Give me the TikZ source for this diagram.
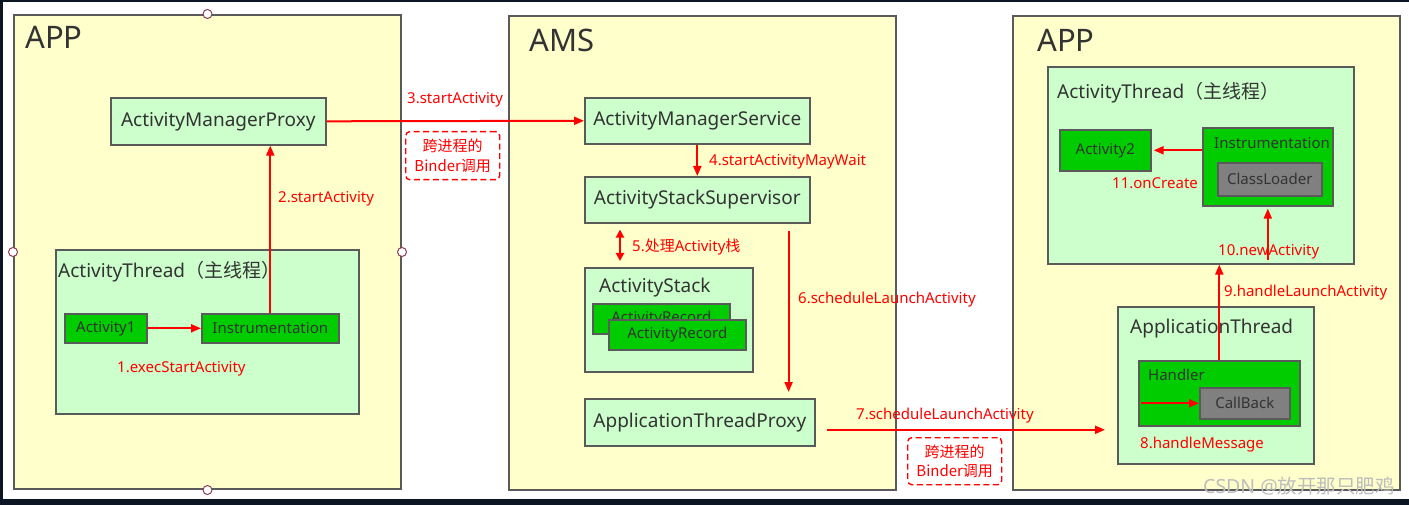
\documentclass[tikz,border=0pt]{standalone}
\usepackage{fontspec}
\setmainfont{Noto Sans}
\newfontfamily\cjk{Noto Sans CJK SC}
\usetikzlibrary{arrows.meta}

\definecolor{panelfill}{HTML}{FFFFCC}
\definecolor{lightgreen}{HTML}{CCFFCC}
\definecolor{boxgreen}{HTML}{00CC00}
\definecolor{boxgray}{HTML}{808080}
\definecolor{edgegray}{HTML}{5A5A5A}
\definecolor{txtgray}{HTML}{333333}
\definecolor{navy}{HTML}{0B1524}
\definecolor{handle}{HTML}{8C3C55}
\definecolor{markgray}{HTML}{BDBDBD}

\newcommand{\bigfont}{\fontsize{31}{36}\selectfont}
\newcommand{\boxfont}{\fontsize{19}{23}\selectfont}
\newcommand{\smallfont}{\fontsize{15}{19.5}\selectfont}

\begin{document}
\begin{tikzpicture}[x=1pt, y=-1pt,
    panel/.style={draw=edgegray, fill=panelfill, line width=2pt, anchor=north west, inner sep=0pt},
    lbox/.style={draw=edgegray, fill=lightgreen, line width=1.6pt, anchor=north west, inner sep=0pt, font=\boxfont, text=txtgray},
    gbox/.style={lbox, fill=boxgreen, font=\smallfont},
    graybox/.style={gbox, fill=boxgray},
    bigtitle/.style={text=txtgray, font=\bigfont, inner sep=0pt, anchor=base west},
    title/.style={text=txtgray, font=\boxfont, inner sep=0pt, anchor=base west},
    smalltitle/.style={title, font=\smallfont},
    note/.style={text=red, font=\smallfont, inner sep=0pt, anchor=base west},
    binder/.style={draw=red, dashed, dash pattern=on 6pt off 3.5pt, line width=1.4pt, rounded corners=4pt,
                   anchor=north west, inner sep=0pt, text=red, align=center, font=\smallfont\cjk},
    flow/.style={red, line width=2pt, -{Triangle[length=10pt,width=8pt]}},
    twoway/.style={red, line width=2pt, {Triangle[length=8pt,width=8pt]}-{Triangle[length=8pt,width=8pt]}},
  ]
  \useasboundingbox (0,0) rectangle (1409,505);
  \fill[white] (0,0) rectangle (1409,505);
  \fill[navy] (0,0) rectangle (1409,1.7);
  \fill[navy] (0,0) rectangle (2.5,505);
  \fill[navy] (0,499) rectangle (1409,505);

  % the three processes
  \node[panel, minimum width=387pt, minimum height=474pt] (appL) at (13,14) {};
  \node[panel, minimum width=387pt, minimum height=474pt] (ams) at (508,15) {};
  \node[panel, minimum width=387pt, minimum height=474pt] (appR) at (1012,15) {};
  \node[bigtitle] (appLt) at (25,49) {APP};
  \node[bigtitle] (amst) at (529,52) {AMS};
  \node[bigtitle] (appRt) at (1037,52) {APP};
  \foreach \p in {appL.north, appL.west, appL.east, appL.south}
    \filldraw[fill=white, draw=handle, line width=1pt] (\p) circle (4.5pt);

  % left app
  \node[lbox, minimum width=215pt, minimum height=47pt] (amp) at (110,97) {ActivityManagerProxy};
  \node[lbox, minimum width=303pt, minimum height=164pt] (atL) at (55,249) {};
  \node[title] (atLt) at (58,277) {ActivityThread{\cjk （主线程）}};
  \node[gbox, minimum width=82pt, minimum height=29pt] (act1) at (64,313) {Activity1};
  \node[gbox, minimum width=137pt, minimum height=29pt] (instL) at (201,313) {Instrumentation};

  % ams
  \node[lbox, minimum width=225pt, minimum height=46pt] (amsv) at (584,97) {ActivityManagerService};
  \node[lbox, minimum width=225pt, minimum height=46pt] (ass) at (584,176) {ActivityStackSupervisor};
  \node[lbox, minimum width=168pt, minimum height=104pt] (stack) at (584,267) {};
  \node[title] (stackt) at (599,293) {ActivityStack};
  \node[gbox, minimum width=137pt, minimum height=30pt] (rec1) at (592,303) {ActivityRecord};
  \node[gbox, minimum width=137pt, minimum height=30pt] (rec2) at (608,319) {ActivityRecord};
  \node[lbox, minimum width=230pt, minimum height=47pt] (atp) at (584,398) {ApplicationThreadProxy};

  % right app
  \node[lbox, minimum width=306pt, minimum height=197pt] (atR) at (1047,66) {};
  \node[title] (atRt) at (1057,99) {ActivityThread{\cjk （主线程）}};
  \node[gbox, minimum width=91pt, minimum height=41pt] (act2) at (1059,129) {Activity2};
  \node[gbox, minimum width=130pt, minimum height=78pt] (instR) at (1202,127) {};
  \node[smalltitle] (instRt) at (1214,149) {Instrumentation};
  \node[graybox, minimum width=104pt, minimum height=33pt] (loader) at (1217,162) {ClassLoader};
  \node[lbox, minimum width=196pt, minimum height=157pt] (apt) at (1117,306) {};
  \node[title] (aptt) at (1130,334) {ApplicationThread};
  \node[gbox, minimum width=161pt, minimum height=65pt] (handler) at (1138,360) {};
  \node[smalltitle] (handlert) at (1148,380) {Handler};
  \node[graybox, minimum width=90pt, minimum height=31pt] (callback) at (1199,387) {CallBack};

  % binder calls
  \node[binder, minimum width=94pt, minimum height=48pt] (binder1) at (405,131) {跨进程的\\Binder调用};
  \node[binder, minimum width=94pt, minimum height=47pt] (binder2) at (907,437) {跨进程的\\Binder调用};

  % calls
  \draw[flow] (act1.east) -- (instL.west);
  \draw[flow] (instL.north) -- (instL.north |- amp.south);
  \draw[flow] (amp.east) -- (amsv.west);
  \draw[flow] (amsv.south) -- (ass.north);
  \coordinate (s5) at ([xshift=36pt]ass.south west);
  \draw[twoway, shorten <=6pt, shorten >=6pt] (s5) -- (s5 |- stack.north);
  \coordinate (s6) at ([xshift=-22pt]ass.south east);
  \draw[flow, shorten <=7pt, shorten >=6pt] (s6) -- (s6 |- atp.north);
  \coordinate (s7) at ([shift={(11pt,-7.5pt)}]atp.east);
  \draw[flow, shorten >=12pt] (s7) -- (s7 -| apt.west);
  \coordinate (s8) at (callback.west -| handler.west);
  \draw[flow, shorten <=3pt] (s8) -- (callback.west);
  \draw[flow] (handler.north) -- (handler.north |- atR.south);
  \draw[flow, shorten <=5pt, shorten >=2pt] (instR.south |- atR.south) -- (instR.south);
  \draw[flow, shorten >=2pt] (act2.east -| instR.west) -- (act2.east);

  \node[note] (n1) at (117,372) {1.execStartActivity};
  \node[note] (n2) at (278,203) {2.startActivity};
  \node[note] (n3) at (407,104) {3.startActivity};
  \node[note] (n4) at (709,166) {4.startActivityMayWait};
  \node[note] (n5) at (632,252) {5.{\cjk 处理}Activity{\cjk 栈}};
  \node[note] (n6) at (798,303) {6.scheduleLaunchActivity};
  \node[note] (n7) at (856,419) {7.scheduleLaunchActivity};
  \node[note] (n8) at (1140,448) {8.handleMessage};
  \node[note] (n9) at (1224,296) {9.handleLaunchActivity};
  \node[note] (n10) at (1218,256) {10.newActivity};
  \node[note] (n11) at (1112,189) {11.onCreate};

  \node[anchor=base west, inner sep=0pt, text=markgray, font=\fontsize{19.5}{23}\selectfont] (mark) at (1203,493) {CSDN @{\cjk 放开那只肥鸡}};
\end{tikzpicture}
\end{document}
